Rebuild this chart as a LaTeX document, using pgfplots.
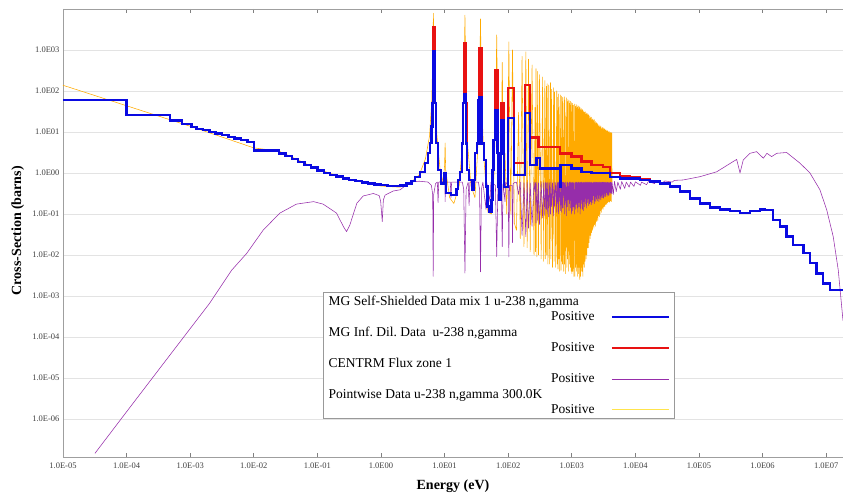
\documentclass[border=0pt]{standalone}
\usepackage{fontspec}
\setmainfont{Liberation Serif}
\usepackage{pgfplots}
\pgfplotsset{compat=1.18}
\definecolor{mgblue}{RGB}{10,10,225}
\definecolor{mgred}{RGB}{232,18,18}
\definecolor{cpurple}{RGB}{150,45,170}
\definecolor{pworange}{RGB}{255,170,0}
\frenchspacing
\begin{document}
\begin{tikzpicture}
\path[use as bounding box] (0,0) rectangle (843pt,493pt);
\begin{axis}[
  at={(63pt,36pt)}, anchor=south west,
  width=780pt, height=448pt, scale only axis,
  xmode=log, ymode=log,
  xmin=1e-5, xmax=1.84e7, ymin=1.18e-7, ymax=1e4,
  xtick={1e-5,1e-4,1e-3,1e-2,1e-1,1,10,100,1000,1e4,1e5,1e6,1e7},
  xticklabels={1.0E-05,1.0E-04,1.0E-03,1.0E-02,1.0E-01,1.0E00,1.0E01,1.0E02,1.0E03,1.0E04,1.0E05,1.0E06,1.0E07},
  ytick={1e-6,1e-5,1e-4,1e-3,1e-2,1e-1,1,10,100,1000},
  yticklabels={1.0E-06,1.0E-05,1.0E-04,1.0E-03,1.0E-02,1.0E-01,1.0E00,1.0E01,1.0E02,1.0E03},
  xtick pos=both, ytick pos=left, tick align=inside, major tick length=4pt,
  xtick style={gray, line width=0.6pt}, ytick style={draw=none},
  minor tick style={draw=none},
  ticklabel style={font=\fontsize{8.5}{10}\selectfont, text=black!75},
  xticklabel style={yshift=-2pt},
  ymajorgrids, grid style={gray!22, line width=0.9pt},
  axis line style={gray!75, line width=0.8pt},
  xlabel={\textbf{Energy (eV)}}, ylabel={\textbf{Cross-Section (barns)}},
  label style={font=\fontsize{14}{16}\selectfont},
  xlabel style={at={(axis description cs:0.5,-0.065)}, anchor=center},
  ylabel style={at={(axis description cs:-0.058,0.505)}, anchor=center},
  legend style={at={(axis description cs:0.3333,0.369)}, anchor=north west,
    draw=gray!80, fill=white, font=\fontsize{13.5}{15}\selectfont,
    inner xsep=3.5pt, inner ysep=1pt, row sep=0pt, column sep=14pt,
    cells={anchor=base west}},
  legend plot pos=right,
  legend image code/.code={\draw[#1] (0pt,3.5pt) -- (57.6pt,3.5pt);},
]
% Pointwise data (orange)
\addplot[pworange, line width=0.55pt, line join=round, forget plot] coordinates {
(1e-5,138)(1e-4,43.6)(1e-3,13.8)(1e-2,4.1)(2.5e-2,3.4)(0.1,1.25)(0.3,0.7)(1.0,0.48)(2.0,0.45)(3.0,0.6)(4.0,0.9)(5.0,2.2)(5.8,8)(6.3,60)(6.55,1000)(6.67,7900)(6.8,1000)(7.1,60)(7.6,8)(8.5,1.2)(9.5,0.6)(10.0,1.5)(10.2,5.4)(10.4,1.2)(12.0,0.25)(14.0,0.18)(17.0,0.5)(19.0,5)(20.3,300)(20.9,7080)(21.5,300)(23.0,5)(26.0,0.5)(30.0,0.25)(33.0,3)(35.5,100)(36.7,5750)(38.0,100)(41.0,3)(48.0,0.11)(55.0,0.1)(60.0,1)(64.0,50)(66.0,2340)(68.0,50)(72.0,1)(76.0,1.2)(79.0,30)(80.7,500)(82.5,30)(86.0,0.4)(89.2,3)(95.0,0.1)(100,30)(102.5,1580)(105,30)(110,0.1)(114,20)(116.9,1000)(120,20)(125,0.06)
(135,0.04)(145.7,30)(155,0.025)(165.3,700)(177,0.016)(189.7,900)(199,0.015)(208.5,600)(222,0.012)(237.4,430)(255,0.01)(264,40)(269,0.012)(273.7,350)(282,0.009)(291,300)(300,0.01)(311.4,250)(330,0.008)(347.8,220)(362,0.007)(376.9,180)(387,0.008)(397.6,130)(404,0.01)(410.2,150)(422,0.006)(434,140)(448,0.006)(463,160)(470,0.008)(478.4,110)(498,0.005)(518.4,120)(527,0.007)(535.4,95)(558,0.005)(580.2,100)(587,0.006)(594.9,70)(607,0.0045)(619.9,85)(624,0.008)(628.5,60)(645,0.004)(661.2,80)(677,0.0042)(694.1,75)(701,0.007)(708.4,55)(715,0.006)(721.6,70)(726,0.01)(730.2,50)(748,0.004)(765.6,72)(773,0.006)(780.5,60)(800,0.0035)(821.6,68)(836,0.005)(851,55)(859,0.008)(866.3,62)(885,0.004)(905.1,58)(915,0.006)(925.2,50)(931,0.01)(937.1,45)(948,0.005)(958.7,56)(975,0.004)(991.8,52)
(1007,0.0035)(1023.6,50)(1039,0.004)(1054.4,45)(1076,0.003)(1098.2,48)(1119,0.003)(1140.7,42)(1154,0.005)(1167.8,47)(1181,0.004)(1194,38)(1202,0.006)(1210.8,44)(1228,0.003)(1245.4,40)(1256,0.005)(1266.6,43)(1282,0.0035)(1298,36)(1307,0.005)(1316.8,41)(1336,0.0025)(1355.1,39)(1373,0.003)(1391.6,35)(1405,0.004)(1418.6,37)(1431,0.005)(1444.4,33)(1459,0.004)(1473.5,35)(1498,0.003)(1522.5,31)(1534,0.006)(1546.4,33)(1572,0.005)(1597.9,30)(1618,0.007)(1638,31)(1650,0.01)(1662,27)(1685,0.008)(1708,29)(1731,0.01)(1755,26)(1768,0.015)(1782,28)(1795,0.02)(1807,25)(1826,0.015)(1846,26)(1874,0.02)(1902,24)(1915,0.03)(1928,25)(1948,0.025)(1969,22)(1996,0.03)(2024,23)(2058,0.035)(2093,20)(2121,0.04)(2150,21)(2167,0.05)(2184,19)(2221,0.045)(2258,20)(2283,0.055)(2308,17)(2330,0.06)(2351,18)(2372,0.05)(2394,16)(2422,0.07)(2450,17)(2472,0.065)(2495,15)(2523,0.08)(2551,16)(2577,0.07)(2604,14)(2637,0.09)(2670,15)(2689,0.1)(2708,13)(2735,0.085)(2762,14)(2789,0.1)(2816,13)(2845,0.12)(2874,14)(2912,0.11)(2950,12)(2982,0.13)(3014,13)(3042,0.14)(3070,12)(3110,0.13)(3150,12.5)(3182,0.15)(3215,11.5)(3248,0.16)(3282,12)(3321,0.15)(3360,11)(3400,0.17)(3440,11.5)(3472,0.18)(3505,10.5)(3552,0.17)(3600,11)(3650,0.19)(3700,10.5)(3755,0.2)(3810,10)(3860,0.19)(3910,10.2)(3960,0.2)(4010,9.5)(4065,0.21)(4120,9.8)(4185,0.2)(4250,9.5)(4300,0.6)
};
% CENTRM flux (purple)
\addplot[cpurple, line width=0.55pt, line join=round, forget plot] coordinates {
(3.18e-5,1.45e-7)(1e-4,1.5e-6)(3.16e-4,1.55e-5)(1e-3,1.6e-4)(2e-3,6.5e-4)(4.5e-3,4.27e-3)(7.76e-3,1.1e-2)(1.41e-2,4.07e-2)(2.57e-2,0.105)(4.68e-2,0.174)(8.71e-2,0.20)(0.123,0.174)(0.20,0.105)(0.257,0.049)(0.288,0.037)(0.324,0.054)(0.417,0.182)(0.525,0.275)(0.759,0.316)(0.94,0.28)(0.99,0.2)(1.047,0.065)(1.09,0.22)(1.16,0.288)(1.55,0.363)(2.0,0.389)(2.86,0.60)(4.0,0.63)(5.5,0.60)(6.2,0.50)(6.5,0.3)(6.62,0.003)(6.75,0.3)(7.2,0.55)(7.7,0.6)(7.9,0.19)(8.1,0.6)(9.5,0.62)(10.1,0.6)(10.2,0.2)(10.35,0.6)(12.3,0.6)(12.6,0.25)(12.9,0.6)(19.0,0.6)(20.0,0.4)(20.9,0.0036)(21.8,0.4)(23.5,0.6)(24.3,0.16)(25.0,0.6)(34.0,0.6)(35.5,0.4)(36.7,0.0039)(38.0,0.4)(40.0,0.6)(44.8,0.13)(46,0.6)(51.8,0.2)(53.5,0.6)(63,0.5)(66.0,0.0091)(69,0.5)(78,0.5)(80.7,0.016)(83,0.55)(89.2,0.2)(91,0.6)(100,0.5)(102.5,0.009)(105,0.5)(115,0.5)(116.9,0.02)(120,0.55)
(125,0.58)(135,0.6)(145.7,0.3)(155,0.6)(165.3,0.03)(177,0.58)(189.7,0.028)(199,0.6)(208.5,0.045)(222,0.57)(237.4,0.05)(255,0.6)(264,0.35)(269,0.58)(273.7,0.06)(282,0.6)(291,0.07)(300,0.57)(311.4,0.055)(330,0.6)(347.8,0.08)(362,0.58)(376.9,0.09)(387,0.6)(397.6,0.13)(404,0.57)(410.2,0.1)(422,0.6)(434,0.085)(448,0.58)(463,0.1)(470,0.6)(478.4,0.15)(498,0.57)(518.4,0.09)(527,0.6)(535.4,0.16)(558,0.58)(580.2,0.11)(587,0.6)(594.9,0.18)(607,0.57)(619.9,0.1)(624,0.6)(628.5,0.2)(645,0.58)(661.2,0.12)(677,0.6)(694.1,0.11)(701,0.57)(708.4,0.2)(715,0.6)(721.6,0.14)(726,0.58)(730.2,0.25)(748,0.6)(765.6,0.1)(773,0.57)(780.5,0.17)(800,0.6)(821.6,0.09)(836,0.58)(851,0.15)(859,0.6)(866.3,0.22)(885,0.57)(905.1,0.12)(915,0.6)(925.2,0.18)(931,0.58)(937.1,0.26)(948,0.6)(958.7,0.14)(975,0.57)(991.8,0.1)
(1007,0.6)(1023.6,0.12)(1039,0.58)(1054.4,0.15)(1076,0.6)(1098.2,0.1)(1119,0.57)(1140.7,0.13)(1154,0.6)(1167.8,0.17)(1181,0.58)(1194,0.2)(1202,0.6)(1210.8,0.14)(1228,0.57)(1245.4,0.11)(1256,0.6)(1266.6,0.19)(1282,0.58)(1298,0.15)(1307,0.6)(1316.8,0.21)(1336,0.57)(1355.1,0.1)(1373,0.6)(1391.6,0.14)(1405,0.58)(1418.6,0.18)(1431,0.6)(1444.4,0.22)(1459,0.57)(1473.5,0.13)(1498,0.6)(1522.5,0.12)(1534,0.58)(1546.4,0.2)(1572,0.6)(1597.9,0.15)(1618,0.57)(1638,0.18)(1650,0.6)(1662,0.24)(1685,0.58)(1708,0.14)(1731,0.6)(1755,0.19)(1768,0.57)(1782,0.23)(1795,0.6)(1807,0.27)(1826,0.58)(1846,0.16)(1874,0.6)(1902,0.18)(1915,0.57)(1928,0.25)(1948,0.6)(1969,0.2)(1996,0.58)(2024,0.17)(2058,0.6)(2093,0.19)(2121,0.57)(2150,0.22)(2167,0.6)(2184,0.28)(2221,0.58)(2258,0.18)(2283,0.6)(2308,0.21)(2330,0.57)(2351,0.26)(2372,0.6)(2394,0.2)(2422,0.58)(2450,0.23)(2472,0.6)(2495,0.29)(2523,0.57)(2551,0.21)(2577,0.6)(2604,0.24)(2637,0.58)(2670,0.2)(2689,0.6)(2708,0.3)(2735,0.57)(2762,0.23)(2789,0.6)(2816,0.26)(2845,0.58)(2874,0.22)(2912,0.6)(2950,0.28)(2982,0.57)(3014,0.25)(3042,0.6)(3070,0.3)(3110,0.58)(3150,0.24)(3182,0.6)(3215,0.27)(3248,0.57)(3282,0.32)(3321,0.6)(3360,0.26)(3400,0.58)(3440,0.29)(3472,0.6)(3505,0.33)(3552,0.57)(3600,0.27)(3650,0.6)(3700,0.3)(3755,0.58)(3810,0.28)(3860,0.6)(3910,0.34)(3960,0.57)(4010,0.3)(4065,0.6)(4120,0.33)(4185,0.58)(4250,0.31)(4300,0.6)
(4500,0.3)(4700,0.62)(5000,0.35)(5300,0.6)(5800,0.4)(6100,0.62)(6800,0.42)(7200,0.6)(8000,0.45)(8400,0.6)(9500,0.47)(1.0e4,0.61)(1.2e4,0.5)(1.25e4,0.6)(1.5e4,0.52)(1.6e4,0.62)(2.0e4,0.55)(2.1e4,0.63)(2.7e4,0.58)(2.9e4,0.64)(3.8e4,0.6)(4.1e4,0.66)(5.66e4,0.676)(1.04e5,0.813)(1.90e5,1.07)(3.46e5,1.905)(3.92e5,2.14)(4.42e5,1.0)(4.98e5,2.09)(6.34e5,3.02)(8.07e5,3.31)(1.03e6,2.29)(1.17e6,3.02)(1.39e6,2.51)(1.67e6,3.02)(2.39e6,3.16)(3.87e6,1.74)(5.56e6,1.0)(7.98e6,0.389)(1.02e7,0.126)(1.29e7,0.0282)(1.55e7,4.27e-3)(1.84e7,2.5e-4)
};
% MG infinite dilution (red)
\addplot[mgred, line width=2.4pt, const plot, forget plot] coordinates {
(5.48,3.09)(5.89,5.37)(6.22,13.5)(6.46,50.1)(6.58,3550)(6.93,50.1)(7.33,5.37)(7.96,1.17)(8.77,0.56)(9.8,1.0)(10.6,0.324)(12.5,0.29)(15.5,0.40)(16.3,0.68)(17.5,1.07)(18.6,5.25)(19.5,50.1)(20.3,1445)(21.5,50)(22.5,1.17)(24.2,0.68)(26.7,0.389)(28.5,0.68)(30.1,3.09)(32.0,5.25)(33.9,60.3)(35.2,1096)(38.3,5.25)(41.6,2.09)(44.8,0.47)(47.0,0.151)(49.4,0.115)(55.0,0.22)(57.0,1.17)(58.4,6.31)(62.0,324)(67.5,3.09)(70.0,0.47)(73.0,0.22)(76.0,3.0)(79.0,50)(86.0,0.45)(99.3,120)(123,1.74)(183.6,141)(220.3,7.4)(300,4.37)(651,3.02)(995,2.51)(1432,1.91)(2056,1.58)(3130,1.38)(3990,1.0)(5730,0.85)(8230,0.79)(1.18e4,0.71)(1.70e4,0.617)(2.44e4,0.56)
};
% MG self-shielded (blue)
\addplot[mgblue, line width=2.4pt, const plot, forget plot] coordinates {
(1e-5,60.3)(1e-4,25.7)(4.79e-4,18.9)(7.41e-4,15.5)(1.05e-3,13.2)(1.26e-3,12.0)(1.58e-3,11.0)(2.0e-3,10.0)(2.51e-3,9.12)(3.16e-3,8.32)(3.98e-3,7.59)(5.01e-3,6.92)(6.31e-3,6.31)(7.94e-3,5.75)(1.0e-2,3.50)(2.51e-2,3.02)(3.16e-2,2.57)(3.98e-2,2.19)(5.01e-2,1.86)(6.31e-2,1.58)(7.94e-2,1.35)(0.1,1.15)(0.126,1.0)(0.158,0.891)(0.2,0.813)(0.251,0.741)(0.316,0.676)(0.398,0.631)(0.501,0.589)(0.631,0.550)(0.794,0.525)(1.0,0.501)(1.26,0.479)(1.58,0.479)(2.0,0.490)(2.51,0.550)(3.0,0.63)(3.43,0.79)(4.10,1.07)(4.92,1.74)(5.48,3.09)(5.89,5.37)(6.22,13.5)(6.46,50.1)(6.58,912)(6.93,50.1)(7.33,5.37)(7.96,1.17)(8.77,0.56)(9.8,1.0)(10.6,0.324)(12.5,0.29)(15.5,0.40)(16.3,0.68)(17.5,1.07)(18.6,5.25)(19.5,50.1)(20.3,83.2)(21.5,5.25)(22.5,1.17)(24.2,0.68)(26.7,0.389)(28.5,0.68)(30.1,3.09)(32.0,5.25)(33.9,60.3)(35.2,72.4)(38.3,5.25)(41.6,2.09)(44.8,0.47)(47.0,0.151)(49.4,0.115)(55.0,0.22)(57.0,1.17)(58.4,6.31)(62.0,34.7)(67.5,3.09)(70.0,0.47)(73.0,0.22)(76.0,3.0)(79.0,19.5)(86.0,0.45)(99.3,21.9)(123,0.89)(183.6,28.8)(220.3,1.58)(280.5,2.29)(316,1.29)(651,1.58)(665,0.47)(680,1.58)(995,1.29)(1432,1.07)(2056,1.0)(3990,0.81)(5730,0.74)(1.18e4,0.676)(1.70e4,0.617)(2.44e4,0.56)(3.50e4,0.47)(5.02e4,0.355)(7.21e4,0.24)(1.04e5,0.182)(1.49e5,0.145)(2.14e5,0.129)(3.07e5,0.117)(4.42e5,0.107)(6.34e5,0.117)(9.1e5,0.129)(1.09e6,0.126)(1.46e6,0.071)(1.88e6,0.049)(2.39e6,0.028)(3.04e6,0.0174)(4.37e6,0.011)(5.56e6,0.0063)(7.08e6,0.0035)(9.0e6,0.002)(1.15e7,0.0014)(1.84e7,0.0014)
};
\addlegendimage{mgblue, line width=2.4pt}
\addlegendentry{\parbox[b]{266pt}{\strut MG Self-Shielded Data mix 1 u-238 n,gamma\newline\null\hfill Positive\strut}}
\addlegendimage{mgred, line width=2.4pt}
\addlegendentry{\parbox[b]{266pt}{\strut MG Inf. Dil. Data~~u-238 n,gamma\newline\null\hfill Positive\strut}}
\addlegendimage{cpurple, line width=0.7pt}
\addlegendentry{\parbox[b]{266pt}{\strut CENTRM Flux zone 1\newline\null\hfill Positive\strut}}
\addlegendimage{pworange!45!yellow!70!white, line width=0.9pt}
\addlegendentry{\parbox[b]{266pt}{\strut Pointwise Data u-238 n,gamma 300.0K\newline\null\hfill Positive\strut}}
\end{axis}
\end{tikzpicture}
\end{document}
